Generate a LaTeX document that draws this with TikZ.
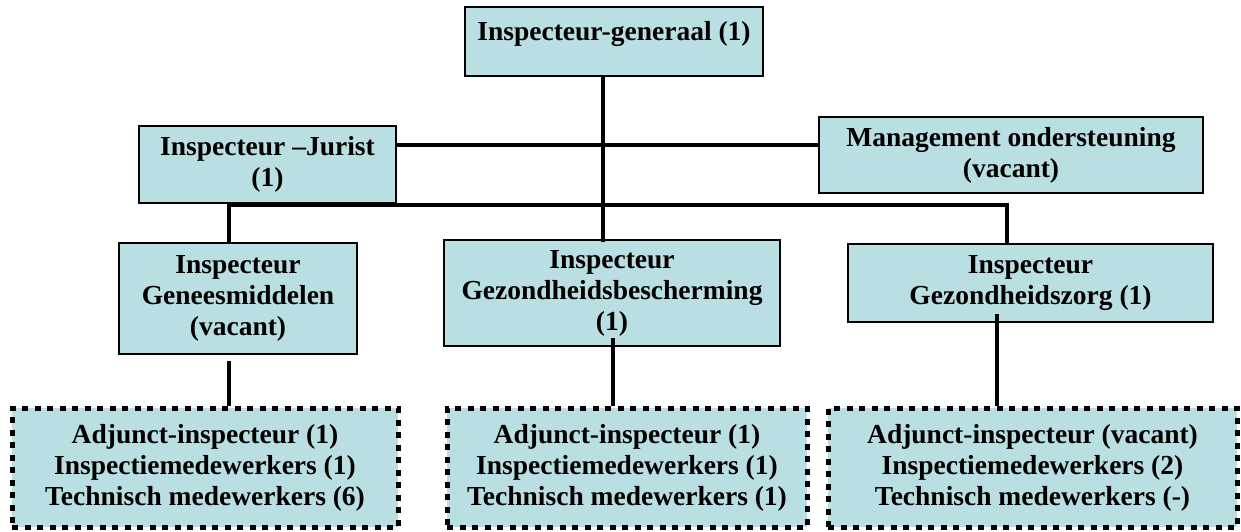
\documentclass[tikz,border=0pt]{standalone}
\usepackage{fontspec}
\setmainfont{Liberation Serif}
\usetikzlibrary{calc}
\definecolor{boxfill}{RGB}{185,223,227}
\begin{document}
\begin{tikzpicture}[x=1pt,y=-1pt,
  font=\bfseries\fontsize{27.5}{31}\selectfont,
  solidbox/.style={draw=black,line width=1.6pt,fill=boxfill,align=center,inner sep=0pt,
    minimum width=#1},
  dotbox/.style={draw=black,line width=5pt,dash pattern=on 6pt off 6.5pt,fill=boxfill,
    align=center,inner sep=0pt,minimum width=#1,minimum height=119pt},
  conn/.style={line width=4.5pt,line join=miter}]
\useasboundingbox (0,0) rectangle (1241,531);
% boxes
\node[solidbox=298pt,minimum height=69pt,text depth=22pt] (top) at (614,41.5) {Inspecteur-generaal (1)};
\node[solidbox=257pt,minimum height=77pt] (jurist) at (267.5,164.5) {Inspecteur --Jurist\\(1)};
\node[solidbox=384pt,minimum height=76pt] (mgmt) at (1011,155) {Management ondersteuning\\(vacant)};
\node[solidbox=238pt,minimum height=111pt] (genees) at (238,298.5) {Inspecteur\\Geneesmiddelen\\(vacant)};
\node[solidbox=336pt,minimum height=106pt] (bescherm) at (612,293) {Inspecteur\\Gezondheidsbescherming\\(1)};
\node[solidbox=365pt,minimum height=78pt] (zorg) at (1030.5,283) {Inspecteur\\Gezondheidszorg (1)};
\node[dotbox=386pt] (d1) at (205,467.5) {Adjunct-inspecteur (1)\\Inspectiemedewerkers (1)\\Technisch medewerkers (6)};
\node[dotbox=360pt] (d2) at (627,467.5) {Adjunct-inspecteur (1)\\Inspectiemedewerkers (1)\\Technisch medewerkers (1)};
\node[dotbox=409pt] (d3) at (1032.5,467.5) {Adjunct-inspecteur (vacant)\\Inspectiemedewerkers (2)\\Technisch medewerkers (-)};
% helper coordinates
\coordinate (trunk) at (603,0);
\coordinate (jm) at (0,145);
\coordinate (bus) at (0,205);
\coordinate (dropL) at (229,0);
\coordinate (dropR) at (1007,0);
\coordinate (x2) at (613,0);
\coordinate (x3) at (997,0);
% connectors
\draw[conn,shorten >=-3pt] (top.south -| trunk) -- (bescherm.north -| trunk);
\draw[conn] (jurist.east |- jm) -- (mgmt.west |- jm);
\draw[conn] (genees.north -| dropL) -- (bus -| dropL) -- (bus -| dropR) -- (zorg.north -| dropR);
\draw[conn,shorten <=6pt] (genees.south -| dropL) -- (d1.north -| dropL);
\draw[conn,shorten <=-9pt] (bescherm.south -| x2) -- (d2.north -| x2);
\draw[conn,shorten <=-9pt] (zorg.south -| x3) -- (d3.north -| x3);
\end{tikzpicture}
\end{document}
